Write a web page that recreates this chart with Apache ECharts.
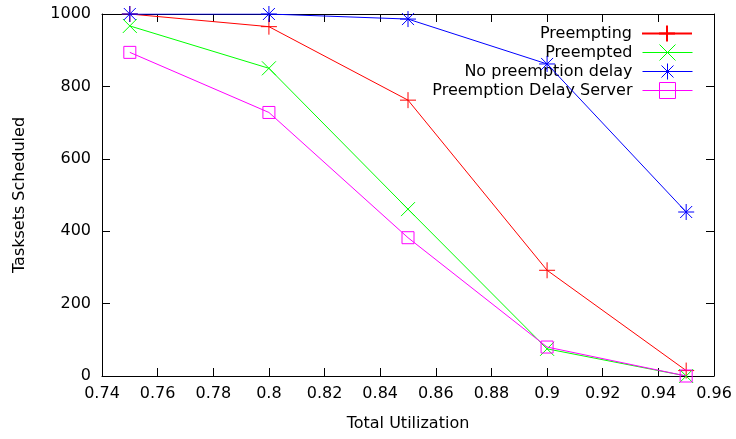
<!DOCTYPE html>
<html>
<head>
<meta charset="utf-8">
<script src="https://cdn.jsdelivr.net/npm/echarts@6/dist/echarts.min.js"></script>
<style>
html, body { margin: 0; padding: 0; background: #fff; }
#chart { width: 736px; height: 439px; }
</style>
</head>
<body>
<div id="chart"></div>
<script>
// total utilization on the x axis
var utilization = [0.75, 0.8, 0.85, 0.9, 0.95];
var preempting = [1000, 965, 762, 292, 15];
var preempted = [967, 850, 461, 75, 0];
var noDelay = [1000, 1000, 986, 862, 453];
var delayServer = [894, 728, 382, 80, 0];
var seriesNames = ['Preempting', 'Preempted', 'No preemption delay', 'Preemption Delay Server'];

var font = 'DejaVu Sans';

function pairs(vals) {
	return utilization.map(function (u, i) { return [u, vals[i]]; });
}

var marks = [
	{ sym: 'path://M0,8L16,8M8,0L8,16', size: 16, color: '#ff0000' },
	{ sym: 'path://M0,0L14,14M0,14L14,0', size: 14, color: '#00ff00' },
	{ sym: 'path://M0,8L16,8M8,0L8,16M2,2L14,14M2,14L14,2', size: 16, color: '#0000ff' },
	{ sym: 'path://M0,0L12,0L12,12L0,12Z', size: 12, color: '#ff00ff' }
];
var values = [preempting, preempted, noDelay, delayServer];

var series = seriesNames.map(function (name, i) {
	return {
		name: name,
		type: 'line',
		color: marks[i].color,
		data: pairs(values[i]),
		symbol: marks[i].sym,
		symbolSize: marks[i].size,
		showAllSymbol: true,
		lineStyle: { color: marks[i].color, width: 1 },
		itemStyle: { color: 'none', borderColor: marks[i].color, borderWidth: 1 },
		emphasis: { disabled: true },
		animation: false,
		z: 3 + i
	};
});

// one legend per row so the labels line up on the right like gnuplot
var legends = seriesNames.map(function (name, i) {
	var lg = {
		data: [name],
		right: 43,
		top: 23 + i * 19,
		padding: 0,
		orient: 'vertical',
		align: 'right',
		itemWidth: 50,
		itemHeight: 20,
		selectedMode: false,
		textStyle: { fontFamily: font, fontSize: 16, color: '#000', padding: [0, 5, 0, 0] }
	};
	// the first entry turns grey when its width is overridden, so leave it on defaults
	if (i > 0) {
		lg.lineStyle = { color: marks[i].color, width: 1 };
		lg.itemStyle = { color: 'none', borderColor: marks[i].color, borderWidth: 1 };
	}
	return lg;
});

var tickStyle = { show: true, inside: true, length: 8, lineStyle: { color: '#000', width: 1 } };
var lineStyleBlack = { show: true, onZero: false, lineStyle: { color: '#000', width: 1 } };

var chart = echarts.init(document.getElementById('chart'));
var option = {
	backgroundColor: '#fff',
	animation: false,
	grid: { left: 102, right: 22, top: 14, bottom: 63, containLabel: false },
	legend: legends,
	xAxis: [
		{
			type: 'value', min: 0.74, max: 0.96, interval: 0.02,
			name: 'Total Utilization', nameLocation: 'middle', nameGap: 40,
			nameTextStyle: { fontFamily: font, fontSize: 16, color: '#000' },
			axisLine: lineStyleBlack, axisTick: tickStyle,
			axisLabel: {
				margin: 10, fontFamily: font, fontSize: 16, color: '#000',
				formatter: function (v) { return String(+v.toFixed(2)); }
			},
			splitLine: { show: false }
		},
		{
			type: 'value', min: 0.74, max: 0.96, interval: 0.02, position: 'top',
			axisLine: lineStyleBlack, axisTick: tickStyle,
			axisLabel: { show: false }, splitLine: { show: false }
		}
	],
	yAxis: [
		{
			type: 'value', min: 0, max: 1000, interval: 200,
			name: 'Tasksets Scheduled', nameLocation: 'middle', nameGap: 74,
			nameTextStyle: { fontFamily: font, fontSize: 16, color: '#000' },
			axisLine: lineStyleBlack, axisTick: tickStyle,
			axisLabel: {
				margin: 11, fontFamily: font, fontSize: 16, color: '#000',
				formatter: function (v) { return String(v); }
			},
			splitLine: { show: false }
		},
		{
			type: 'value', min: 0, max: 1000, interval: 200, position: 'right',
			axisLine: lineStyleBlack, axisTick: tickStyle,
			axisLabel: { show: false }, splitLine: { show: false }
		}
	],
	series: series
};
chart.setOption(option);
</script>
</body>
</html>
